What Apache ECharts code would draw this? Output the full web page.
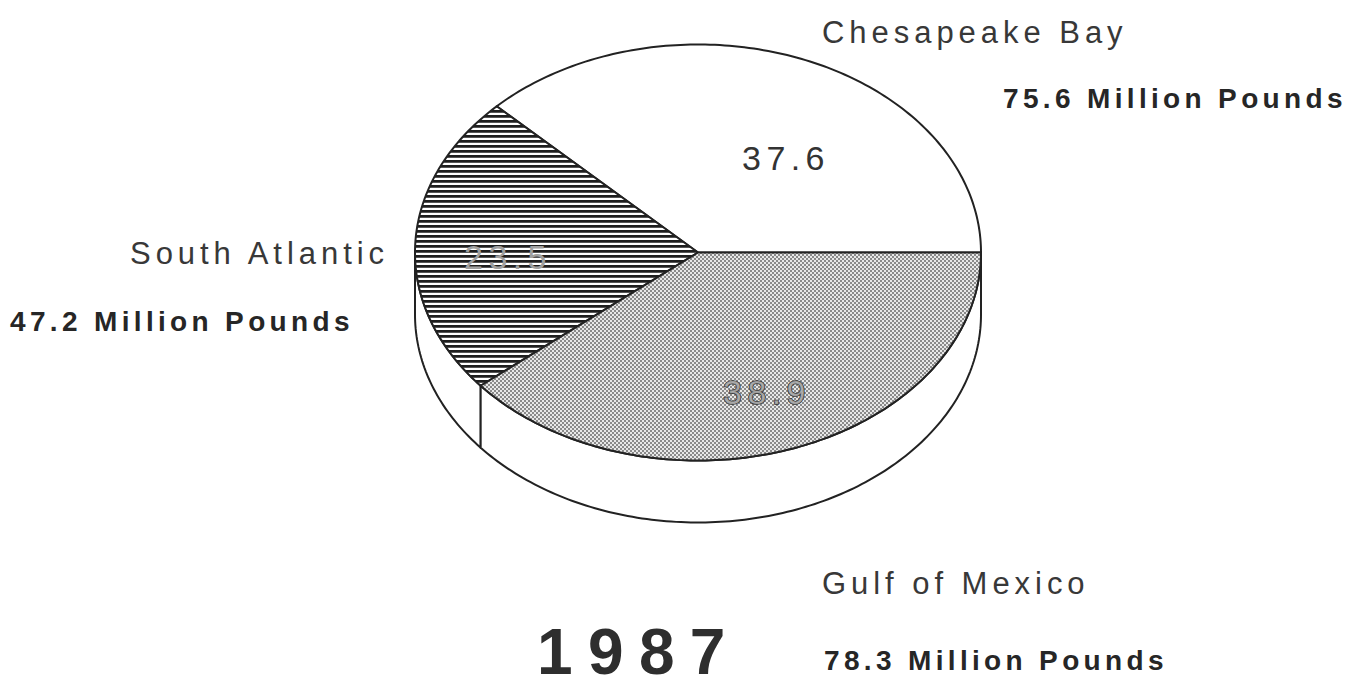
<!DOCTYPE html>
<html>
<head>
<meta charset="utf-8">
<script src="https://cdn.jsdelivr.net/npm/echarts@6/dist/echarts.min.js"></script>
<style>
  html, body { margin: 0; padding: 0; background: #fff; }
  #chart { width: 1356px; height: 700px; }
  /* wide tracking for every label, wider still for the year */
  #chart text { letter-spacing: 0.16em; }
  #chart text[style*="bold"] { letter-spacing: 0.155em; }
  #chart text[style*="64px"] { letter-spacing: 0.24em; }
</style>
</head>
<body>
<div id="chart"></div>
<script>
// Landings by region, million pounds
const regions = ['Chesapeake Bay', 'South Atlantic', 'Gulf of Mexico'];
const landings = [75.6, 47.2, 78.3];
const year = '1987';

// Pie geometry (tilted disc)
const PIE = { cx: 698, cy: 252.5, rx: 283, ry: 208, depth: 62 };
const FONT = '"Liberation Sans", Arial, Helvetica, sans-serif';
const INK = '#222';

// Label anchors per slice: region name, amount, share
const labelPos = [
  { name: [822, 32],  amount: [1003, 98],  share: [786, 158] },
  { name: [130, 253], amount: [10, 321],   share: [508, 257] },
  { name: [822, 583], amount: [824, 660],  share: [767, 392] }
];

function makeTile(w, h, draw) {
  const c = document.createElement('canvas');
  c.width = w; c.height = h;
  draw(c.getContext('2d'));
  return c;
}
// horizontal hatching
const hatchTile = makeTile(4, 5, g => {
  g.fillStyle = '#fff'; g.fillRect(0, 0, 4, 5);
  g.fillStyle = '#1e1e1e'; g.fillRect(0, 0, 4, 2);
  g.fillStyle = '#555'; g.fillRect(0, 2, 4, 1);
});
// fine dot screen
const dotTile = makeTile(4, 4, g => {
  g.fillStyle = '#e8e8e8'; g.fillRect(0, 0, 4, 4);
  g.fillStyle = '#8a8a8a'; g.fillRect(0, 0, 2, 2); g.fillRect(2, 2, 2, 2);
});
const fills = [
  '#ffffff',
  { image: hatchTile, repeat: 'repeat', imageWidth: 4, imageHeight: 5 },
  { image: dotTile, repeat: 'repeat', imageWidth: 4, imageHeight: 4 }
];
const shareStyles = [
  { fill: '#333' },
  { fill: '#a0a0a0' },
  { fill: 'rgba(170,170,170,0.9)', stroke: '#333', lineWidth: 1.5 }
];

const total = landings.reduce((a, b) => a + b, 0);
const starts = [];
landings.reduce((acc, v, i) => { starts[i] = acc; return acc + v; }, 0);

function pt(theta, dy) {
  return [PIE.cx + PIE.rx * Math.cos(theta), PIE.cy - PIE.ry * Math.sin(theta) + (dy || 0)];
}
function arc(a0, a1, dy) {
  const n = Math.max(2, Math.ceil(Math.abs(a1 - a0) / (Math.PI / 180)));
  const pts = [];
  for (let i = 0; i <= n; i++) pts.push(pt(a0 + (a1 - a0) * i / n, dy));
  return pts;
}

function renderSlice(params, api) {
  const i = params.dataIndex;
  const v = api.value(0);
  const a0 = 2 * Math.PI * starts[i] / total;
  const a1 = 2 * Math.PI * (starts[i] + v) / total;
  const children = [];

  // visible side wall (front half of the disc)
  const s0 = Math.max(a0, Math.PI), s1 = Math.min(a1, 2 * Math.PI);
  if (s1 > s0) {
    children.push({
      type: 'polygon',
      shape: { points: arc(s0, s1, 0).concat(arc(s1, s0, PIE.depth)) },
      style: { fill: '#fff', stroke: INK, lineWidth: 2, lineJoin: 'round' }
    });
  }
  // top face
  children.push({
    type: 'polygon',
    shape: { points: [[PIE.cx, PIE.cy]].concat(arc(a0, a1, 0)) },
    style: { fill: fills[i], stroke: INK, lineWidth: 2, lineJoin: 'round' }
  });
  // share of total
  const lp = labelPos[i];
  children.push({
    type: 'text', x: lp.share[0], y: lp.share[1],
    style: Object.assign({
      text: (v / total * 100).toFixed(1),
      fontSize: 34, fontFamily: FONT,
      textAlign: 'center', verticalAlign: 'middle'
    }, shareStyles[i])
  });
  // region name
  children.push({
    type: 'text', x: lp.name[0], y: lp.name[1],
    style: {
      text: regions[i], fontSize: 31, fontFamily: FONT, fill: '#383838',
      textAlign: 'left', verticalAlign: 'middle'
    }
  });
  // amount
  children.push({
    type: 'text', x: lp.amount[0], y: lp.amount[1],
    style: {
      text: v.toFixed(1) + ' Million Pounds', fontSize: 28, fontWeight: 'bold',
      fontFamily: FONT, fill: '#262626', textAlign: 'left', verticalAlign: 'middle'
    }
  });
  return { type: 'group', children: children };
}

const chart = echarts.init(document.getElementById('chart'), null, { renderer: 'svg' });
chart.setOption({
  animation: false,
  backgroundColor: '#fff',
  graphic: [{
    type: 'text', x: 537, y: 652,
    style: {
      text: year, fontSize: 64, fontWeight: 'bold', fontFamily: FONT,
      fill: '#2e2e2e', textAlign: 'left', verticalAlign: 'middle'
    }
  }],
  series: [{
    type: 'custom',
    coordinateSystem: 'none',
    silent: true,
    renderItem: renderSlice,
    data: landings.map((v, i) => ({ name: regions[i], value: v }))
  }]
});
</script>
</body>
</html>
